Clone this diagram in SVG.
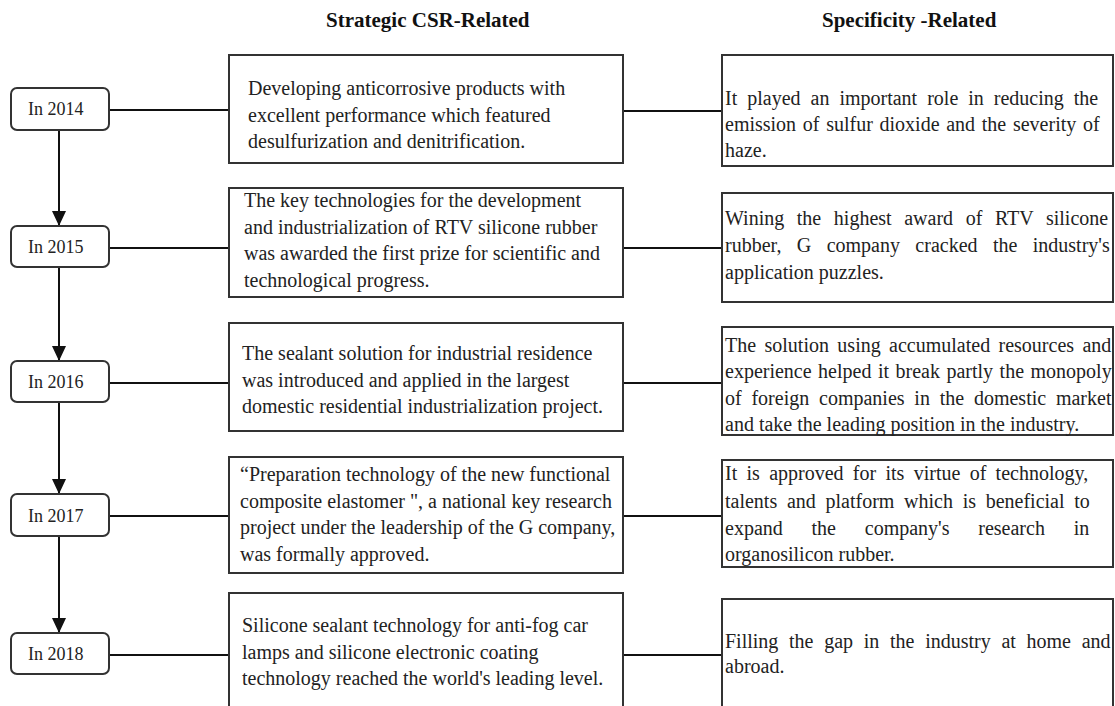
<svg xmlns="http://www.w3.org/2000/svg" width="1115" height="706" viewBox="0 0 1115 706">
<defs>
<style>
.t{font-family:"Liberation Serif","Times New Roman",serif;font-size:20px;fill:#222}
.h{font-family:"Liberation Serif","Times New Roman",serif;font-size:21px;font-weight:bold;fill:#111}
.y{font-family:"Liberation Serif","Times New Roman",serif;font-size:18px;fill:#222}
.yb{fill:#fff;stroke:#333;stroke-width:2}
.bx{fill:#fff;stroke:#333;stroke-width:2}
.c{stroke:#111;stroke-width:2;fill:none}
</style>
<marker id="ah" markerUnits="userSpaceOnUse" markerWidth="15" markerHeight="14" refX="15" refY="7" orient="auto">
<path d="M0,0 L15,7 L0,14 Z" fill="#111"/>
</marker>
</defs>
<rect width="1115" height="706" fill="#fff"/>
<g id="headers">
<text class="h" x="326" y="27">Strategic CSR-Related</text>
<text class="h" x="822" y="27">Specificity -Related</text>
</g>
<g id="connectors">
<line class="c" x1="59" y1="130" x2="59" y2="226" marker-end="url(#ah)"/>
<line class="c" x1="59" y1="267" x2="59" y2="361" marker-end="url(#ah)"/>
<line class="c" x1="59" y1="402" x2="59" y2="494" marker-end="url(#ah)"/>
<line class="c" x1="59" y1="536" x2="59" y2="633" marker-end="url(#ah)"/>
<line class="c" x1="109" y1="110" x2="229" y2="110"/>
<line class="c" x1="623" y1="111" x2="722" y2="111"/>
<line class="c" x1="109" y1="248" x2="229" y2="248"/>
<line class="c" x1="623" y1="248" x2="722" y2="248"/>
<line class="c" x1="109" y1="383" x2="229" y2="383"/>
<line class="c" x1="623" y1="383" x2="722" y2="383"/>
<line class="c" x1="109" y1="516" x2="229" y2="516"/>
<line class="c" x1="623" y1="516" x2="722" y2="516"/>
<line class="c" x1="109" y1="655" x2="229" y2="655"/>
<line class="c" x1="623" y1="655" x2="722" y2="655"/>
</g>
<g id="y2014"><rect class="yb" x="11" y="88" width="98" height="42" rx="6"/><text class="y" x="28" y="115">In 2014</text></g>
<g id="y2015"><rect class="yb" x="11" y="226" width="98" height="41" rx="6"/><text class="y" x="28" y="253">In 2015</text></g>
<g id="y2016"><rect class="yb" x="11" y="361" width="98" height="41" rx="6"/><text class="y" x="28" y="388">In 2016</text></g>
<g id="y2017"><rect class="yb" x="11" y="494" width="98" height="42" rx="6"/><text class="y" x="28" y="522">In 2017</text></g>
<g id="y2018"><rect class="yb" x="11" y="633" width="98" height="41" rx="6"/><text class="y" x="28" y="660">In 2018</text></g>

<g id="m2014"><rect class="bx" x="229" y="55" width="394" height="108"/>
<text class="t" x="248" y="95">Developing anticorrosive products with</text>
<text class="t" x="248" y="122">excellent performance which featured</text>
<text class="t" x="248" y="148">desulfurization and denitrification.</text></g>
<g id="m2015"><rect class="bx" x="229" y="188" width="394" height="109"/>
<text class="t" x="244" y="207">The key technologies for the development</text>
<text class="t" x="244" y="234">and industrialization of RTV silicone rubber</text>
<text class="t" x="244" y="260">was awarded the first prize for scientific and</text>
<text class="t" x="244" y="287">technological progress.</text></g>
<g id="m2016"><rect class="bx" x="229" y="323" width="394" height="108"/>
<text class="t" x="242" y="360">The sealant solution for industrial residence</text>
<text class="t" x="242" y="387">was introduced and applied in the largest</text>
<text class="t" x="242" y="413">domestic residential industrialization project.</text></g>
<g id="m2017"><rect class="bx" x="229" y="457" width="394" height="116"/>
<text class="t" x="240" y="481">“Preparation technology of the new functional</text>
<text class="t" x="240" y="508">composite elastomer ", a national key research</text>
<text class="t" x="240" y="534">project under the leadership of the G company,</text>
<text class="t" x="240" y="561">was formally approved.</text></g>
<g id="m2018"><rect class="bx" x="229" y="593" width="394" height="125"/>
<text class="t" x="242" y="632">Silicone sealant technology for anti-fog car</text>
<text class="t" x="242" y="659">lamps and silicone electronic coating</text>
<text class="t" x="242" y="685">technology reached the world's leading level.</text></g>

<g id="r2014"><rect class="bx" x="722" y="55" width="391" height="111"/>
<text class="t" x="725" y="105" word-spacing="5">It played an important role in reducing the</text>
<text class="t" x="725" y="131" word-spacing="1.7">emission of sulfur dioxide and the severity of</text>
<text class="t" x="725" y="157">haze.</text></g>
<g id="r2015"><rect class="bx" x="722" y="193" width="391" height="109"/>
<text class="t" x="725" y="225" word-spacing="7.6">Wining the highest award of RTV silicone</text>
<text class="t" x="725" y="252" word-spacing="10.4">rubber, G company cracked the industry's</text>
<text class="t" x="725" y="279">application puzzles.</text></g>
<g id="r2016"><rect class="bx" x="722" y="327" width="391" height="108"/>
<text class="t" x="725" y="352" word-spacing="3.4">The solution using accumulated resources and</text>
<text class="t" x="725" y="378" word-spacing="1.5">experience helped it break partly the monopoly</text>
<text class="t" x="725" y="405" word-spacing="4.8">of foreign companies in the domestic market</text>
<text class="t" x="725" y="431">and take the leading position in the industry.</text></g>
<g id="r2017"><rect class="bx" x="722" y="460" width="391" height="107"/>
<text class="t" x="725" y="480" word-spacing="4.3">It is approved for its virtue of technology,</text>
<text class="t" x="725" y="508" word-spacing="4.7">talents and platform which is beneficial to</text>
<text class="t" x="725" y="535" word-spacing="23.8">expand the company's research in</text>
<text class="t" x="725" y="561">organosilicon rubber.</text></g>
<g id="r2018"><rect class="bx" x="722" y="599" width="391" height="120"/>
<text class="t" x="725" y="648" word-spacing="5.7">Filling the gap in the industry at home and</text>
<text class="t" x="725" y="673">abroad.</text></g>
</svg>
